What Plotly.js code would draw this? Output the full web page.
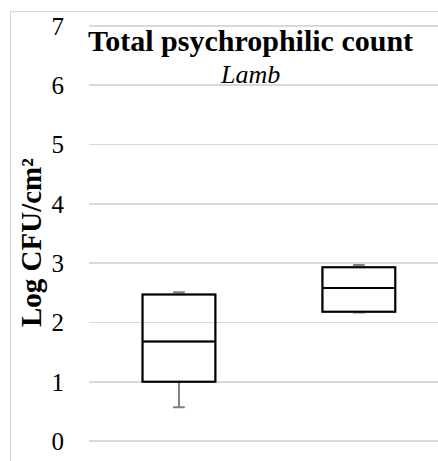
<!DOCTYPE html>
<html>
<head>
<meta charset="utf-8">
<script src="https://cdn.plot.ly/plotly-3.0.1.min.js"></script>
<style>
  html, body { margin: 0; padding: 0; overflow: hidden; background: #fff; }
  #frame { position: absolute; left: 10px; top: 11px; width: 700px; height: 700px; border: 1px solid #d6d6d6; box-sizing: border-box; }
  #chart { position: absolute; left: 0; top: 0; width: 438px; height: 461px; }
</style>
</head>
<body>
<div id="frame"></div>
<div id="chart"></div>
<script>
// Data
const categories = ["Group 1", "Group 2"];
const lowerWhisker = [0.57, 2.17];
const q1Values = [1.00, 2.18];
const medianValues = [1.68, 2.58];
const q3Values = [2.47, 2.93];
const upperWhisker = [2.51, 2.97];
const yTickValues = [0, 1, 2, 3, 4, 5, 6, 7];
const yTickLabels = ["0", "1", "2", "3", "4", "5", "6", "7"];

const SERIF = "Liberation Serif";
const boxWidth = 0.405;

const whiskerTrace = {
  type: "box",
  x: categories,
  q1: q1Values,
  median: medianValues,
  q3: q3Values,
  lowerfence: lowerWhisker,
  upperfence: upperWhisker,
  width: boxWidth,
  whiskerwidth: 0.16,
  line: { color: "#7f7f7f", width: 2 },
  fillcolor: "rgba(255,255,255,0)",
  boxpoints: false,
  hoverinfo: "skip",
  showlegend: false
};

const boxTrace = {
  type: "box",
  x: categories,
  q1: q1Values,
  median: medianValues,
  q3: q3Values,
  lowerfence: q1Values,
  upperfence: q3Values,
  width: boxWidth,
  whiskerwidth: 0,
  line: { color: "#000000", width: 2 },
  fillcolor: "rgba(255,255,255,0)",
  boxpoints: false,
  hoverinfo: "skip",
  showlegend: false
};

const layout = {
  width: 438,
  height: 461,
  margin: { l: 89, r: 0, t: 20, b: 14, pad: 0 },
  paper_bgcolor: "rgba(0,0,0,0)",
  plot_bgcolor: "rgba(0,0,0,0)",
  boxmode: "overlay",
  showlegend: false,
  font: { family: SERIF, color: "#000" },
  xaxis: {
    type: "category",
    categoryorder: "array",
    categoryarray: categories,
    range: [-0.5, 1.44],
    showgrid: false,
    zeroline: false,
    showline: false,
    showticklabels: false,
    ticks: ""
  },
  yaxis: {
    range: [-0.1, 7.1],
    tickmode: "array",
    tickvals: yTickValues,
    ticktext: yTickLabels,
    showgrid: true,
    gridcolor: "#d9d9d9",
    gridwidth: 1.5,
    zeroline: false,
    showline: false,
    ticks: "",
    ticklabelstandoff: 24,
    tickfont: { family: SERIF, size: 25, color: "#000" }
  },
  annotations: [
    {
      text: "Total psychrophilic count",
      xref: "paper", yref: "paper",
      x: (250 - 89) / 349, y: (447 - 40) / 427,
      xanchor: "center", yanchor: "middle",
      showarrow: false,
      font: { family: SERIF, size: 30, color: "#000", weight: "bold" }
    },
    {
      text: "Lamb",
      xref: "paper", yref: "paper",
      x: (250 - 89) / 349, y: (447 - 74) / 427,
      xanchor: "center", yanchor: "middle",
      showarrow: false,
      font: { family: SERIF, size: 26, color: "#000", style: "italic" }
    },
    {
      text: "Log CFU/cm²",
      xref: "paper", yref: "paper",
      x: (31 - 89) / 349, y: (447 - 243) / 427,
      xanchor: "center", yanchor: "middle",
      textangle: -90,
      showarrow: false,
      font: { family: SERIF, size: 29, color: "#000", weight: "bold" }
    }
  ]
};

Plotly.newPlot("chart", [whiskerTrace, boxTrace], layout, { staticPlot: true, displayModeBar: false });
</script>
</body>
</html>
